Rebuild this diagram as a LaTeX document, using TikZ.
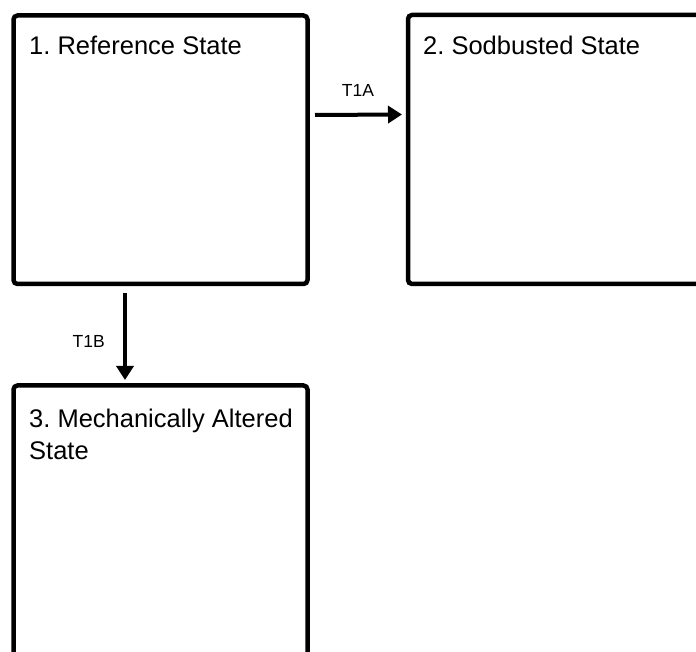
\documentclass[tikz,border=0pt]{standalone}
\usepackage{fontspec}
\setmainfont{Liberation Sans}
\usetikzlibrary{arrows.meta}
\frenchspacing

\begin{document}
\begin{tikzpicture}[x=1pt,y=1pt,
  statebox/.style={draw=black, line width=4.5pt, rounded corners=4pt, outer sep=0pt, inner sep=0pt},
  title/.style={anchor=base west, inner sep=0pt, font=\fontsize{25.5}{32}\selectfont, align=left},
  trans/.style={line width=4pt, -{Triangle[length=14pt,width=17pt]}},
  translabel/.style={inner sep=0pt, font=\fontsize{17.5}{21}\selectfont}
]
\useasboundingbox (0,0) rectangle (696,651);
\fill[white] (0,0) rectangle (696,651);
\clip (0,0) rectangle (696,651);

% state boxes (the second and third run past the page edge)
\node[statebox, minimum width=294, minimum height=268.5, anchor=north west] (s1) at (13.5,635.5) {};
\node[statebox, minimum width=312, minimum height=269, anchor=north west] (s2) at (408,636) {};
\node[statebox, minimum width=294, minimum height=305.5, anchor=north west] (s3) at (13.5,265.5) {};

% state titles (a multi-line node sits on its last baseline)
\node[title] (t1) at (29,596) {1. Reference State};
\node[title] (t2) at (423,596) {2. Sodbusted State};
\node[title] (t3) at (29,191) {3. Mechanically Altered\\State};

% transitions
\draw[trans] ([shift={(7.5,-99.5)}]s1.north east) -- ([shift={(-6,-99.5)}]s2.north west);
\draw[trans] ([shift={(111.5,-9)}]s1.south west) -- ([shift={(111.5,5.5)}]s3.north west);
\node[translabel, anchor=base] (l1) at (358,554.3) {T1A};
\node[translabel, anchor=base east] (l2) at (105,303) {T1B};
\end{tikzpicture}
\end{document}
